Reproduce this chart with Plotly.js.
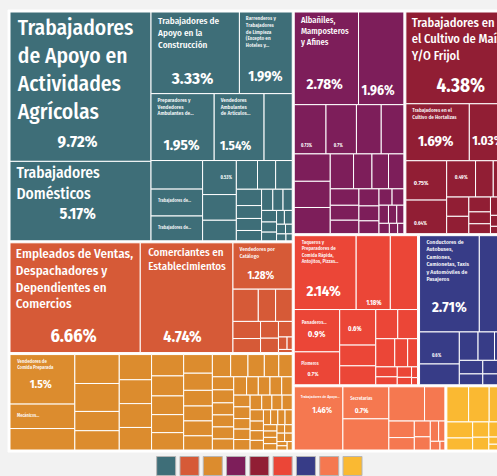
<!DOCTYPE html>
<html>
<head>
<meta charset="utf-8">
<script src="https://cdn.plot.ly/plotly-3.0.1.min.js"></script>
<style>
html,body{margin:0;padding:0;overflow:hidden;background:#f2f2f2;}
#chart{width:510px;height:476px;}
</style>
</head>
<body>
<div id="chart"></div>
<script>
// ---------------- DATA ----------------
const groups = [
  "Trabajadores en Actividades Elementales y de Apoyo",
  "Comerciantes, Empleados en Ventas y Agentes de Ventas",
  "Trabajadores Artesanales",
  "Trabajadores en la Construcción",
  "Trabajadores en Actividades Agrícolas, Ganaderas, Forestales, Caza y Pesca",
  "Trabajadores en Servicios Personales y Vigilancia",
  "Operadores de Maquinaria, Choferes y Conductores de Transporte",
  "Trabajadores Auxiliares en Actividades Administrativas",
  "Profesionistas y Técnicos"
];

// occupation names per group (unnamed small cells are "Otras ocupaciones")
const g0Names = [
  "Trabajadores de Apoyo en Actividades Agrícolas",
  "Trabajadores Domésticos",
  "Trabajadores de Apoyo en la Construcción",
  "Barrenderos y Trabajadores de Limpieza (Excepto en Hoteles y Restaurantes)",
  "Preparadores y Vendedores Ambulantes de Alimentos",
  "Vendedores Ambulantes de Artículos Diversos",
  null, null,
  "Trabajadores de Apoyo en la Industria",
  "Trabajadores de Apoyo en Actividades Pecuarias"
];
const g0Values = [9.72, 5.17, 3.33, 1.99, 1.95, 1.54, 0.87, 0.68, 0.64, 0.59, 0.53,
  0.4, 0.32, 0.28, 0.24, 0.22, 0.19, 0.15, 0.14, 0.12, 0.11, 0.1, 0.09, 0.08, 0.07, 0.06, 0.05, 0.05, 0.04, 0.03, 0.03, 0.02];

const g1Names = [
  "Empleados de Ventas, Despachadores y Dependientes en Comercios",
  "Comerciantes en Establecimientos",
  "Vendedores por Catálogo"
];
const g1Values = [6.66, 4.74, 1.28, 0.38, 0.26, 0.25, 0.22, 0.18, 0.14, 0.12, 0.1, 0.05, 0.03, 0.02];

const g2Names = [
  "Vendedores de Comida Preparada",
  "Mecánicos en Mantenimiento y Reparación de Vehículos"
];
const g2Values = [1.5, 0.74, 0.65, 0.6, 0.58, 0.4, 0.4, 0.38, 0.36, 0.36, 0.34, 0.32, 0.3, 0.28, 0.27, 0.26, 0.25, 0.23, 0.21, 0.2, 0.2, 0.19, 0.19, 0.18, 0.17, 0.15, 0.14, 0.13, 0.13, 0.12, 0.12, 0.12, 0.11, 0.11, 0.1, 0.1, 0.1, 0.09, 0.09, 0.09, 0.08, 0.08, 0.08, 0.08, 0.07, 0.07, 0.07, 0.07, 0.06, 0.06, 0.06, 0.05, 0.05, 0.05, 0.05, 0.04, 0.04, 0.04, 0.04, 0.03, 0.03, 0.03, 0.03, 0.02, 0.02, 0.02];

const g3Names = ["Albañiles, Mamposteros y Afines"];
const g3Values = [2.78, 1.96, 0.73, 0.7, 0.57, 0.52, 0.46, 0.44, 0.44, 0.38, 0.3, 0.27, 0.25, 0.22, 0.2, 0.18, 0.16, 0.14, 0.12, 0.1, 0.09, 0.08, 0.07, 0.06, 0.05, 0.04, 0.03];

const g4Names = [
  "Trabajadores en el Cultivo de Maíz Y/O Frijol",
  "Trabajadores en el Cultivo de Hortalizas"
];
const g4Values = [4.38, 1.69, 1.03, 0.75, 0.64, 0.49, 0.3, 0.25, 0.2, 0.18, 0.15, 0.12, 0.1, 0.08, 0.07, 0.05, 0.04, 0.03, 0.03];

const g5Names = [
  "Taqueros y Preparadores de Comida Rápida, Antojitos, Pizzas, Hot Dogs y Hamburguesas",
  null, null,
  "Panaderos, Pasteleros y Elaboradores de Pan",
  "Plomeros"
];
const g5Values = [2.14, 1.18, 0.94, 0.9, 0.7, 0.6, 0.35, 0.32, 0.3, 0.27, 0.25, 0.17, 0.13, 0.1, 0.08, 0.07, 0.05, 0.03, 0.02];

const g6Names = ["Conductores de Autobuses, Camiones, Camionetas, Taxis y Automóviles de Pasajeros"];
const g6Values = [2.71, 1.3, 0.6, 0.39, 0.25, 0.22, 0.18, 0.15, 0.12, 0.1, 0.08, 0.06, 0.05];

const g7Names = [
  "Trabajadores de Apoyo en Actividades Administrativas",
  "Secretarias"
];
const g7Values = [1.46, 0.7, 0.68, 0.58, 0.33, 0.2, 0.15, 0.12, 0.1, 0.08, 0.06, 0.04, 0.02];

const g8Names = [];
const g8Values = [0.37, 0.35, 0.32, 0.2, 0.15, 0.12, 0.1, 0.08, 0.06, 0.05, 0.04, 0.03];

// ---------------- STYLE ----------------
const groupColors = ["#3e6e78", "#d65a37", "#dc8c2e", "#7d1e5a", "#911e34", "#eb4637", "#373c87", "#f57850", "#fab932"];
const FONT = "'Fira Sans Condensed', 'Roboto Condensed', 'Liberation Sans Narrow', 'DejaVu Sans Condensed', Roboto, sans-serif";
const NAME_PAD = 4;     // extra left padding of names, px
const NB_EM = 0.22;     // width of a no-break space, em

// text shown in cells, keyed by "group-index":
// lines = wrapped name, n = name size, p = percent size, gap = lines from name to percent,
// pre = blank lines above, ind = percent indent (px)
const display = {
  "0-0": {lines: ["Trabajadores", "de Apoyo en", "Actividades", "Agrícolas"], n: 21.5, p: 16.5, gap: 1, ind: 48},
  "0-1": {lines: ["Trabajadores", "Domésticos"], n: 15.5, p: 16, gap: 1, ind: 48},
  "0-2": {lines: ["Trabajadores de", "Apoyo en la", "Construcción"], n: 9.2, p: 17, gap: 3, ind: 20},
  "0-3": {lines: ["Barrenderos y", "Trabajadores", "de Limpieza", "(Excepto en", "Hoteles y..."], n: 5.2, p: 14, gap: 5, ind: 6},
  "0-4": {lines: ["Preparadores y", "Vendedores", "Ambulantes de..."], n: 5.3, p: 15, gap: 5, ind: 9},
  "0-5": {lines: ["Vendedores", "Ambulantes", "de Artículos..."], n: 5.3, p: 13, gap: 5, ind: 4},
  "0-8": {lines: ["Trabajadores de..."], n: 4.5, pre: 1},
  "0-9": {lines: ["Trabajadores de..."], n: 4.5, pre: 1},
  "0-10": {n: 4.5, p: 4.5, gap: 2, ind: 16},
  "1-0": {lines: ["Empleados de Ventas,", "Despachadores y", "Dependientes en", "Comercios"], n: 13, p: 18, gap: 2, ind: 40},
  "1-1": {lines: ["Comerciantes en", "Establecimientos"], n: 11, p: 16, gap: 5, ind: 22},
  "1-2": {lines: ["Vendedores por", "Catálogo"], n: 5.4, p: 11, gap: 3, ind: 12},
  "2-0": {lines: ["Vendedores de", "Comida Preparada"], n: 4.8, p: 11.5, gap: 3, ind: 17},
  "2-1": {lines: ["Mecánicos..."], n: 4.5, pre: 1},
  "3-0": {lines: ["Albañiles,", "Mamposteros", "y Afines"], n: 8.5, p: 15, gap: 4, ind: 9},
  "3-1": {n: 8, p: 13.5, gap: 7, ind: 0},
  "3-2": {n: 4.5, p: 4.5, gap: 6, ind: 4},
  "3-3": {n: 4.5, p: 4.5, gap: 6, ind: 5},
  "4-0": {lines: ["Trabajadores en", "el Cultivo de Maíz", "Y/O Frijol"], n: 12.5, p: 19, gap: 2, ind: 29},
  "4-1": {lines: ["Trabajadores en el", "Cultivo de Hortalizas"], n: 5.2, p: 14.5, gap: 4, ind: 10},
  "4-2": {n: 8, p: 13, gap: 3, ind: 0},
  "4-3": {n: 4.5, p: 6, gap: 3, ind: 5},
  "4-4": {n: 4.5, p: 5, gap: 3, ind: 5},
  "4-5": {n: 4.5, p: 5, gap: 2, ind: 6},
  "5-0": {lines: ["Taqueros y", "Preparadores de", "Comida Rápida,", "Antojitos, Pizzas..."], n: 5, p: 15, gap: 5, ind: 9},
  "5-1": {n: 6, p: 7, gap: 8, ind: 7},
  "5-3": {lines: ["Panaderos..."], n: 5, p: 8.5, gap: 2, pre: 1, ind: 11},
  "5-4": {lines: ["Plomeros"], n: 4.5, p: 5.5, gap: 2, pre: 1, ind: 11},
  "5-5": {n: 5, p: 6.5, gap: 2, ind: 6},
  "6-0": {lines: ["Conductores de", "Autobuses,", "Camiones,", "Camionetas, Taxis", "y Automóviles de", "Pasajeros"], n: 5.8, p: 15, gap: 4, ind: 9},
  "6-2": {n: 4.5, p: 4.5, gap: 3, ind: 10},
  "7-0": {lines: ["Trabajadores de Apoyo..."], n: 4.8, p: 10, gap: 3, pre: 1, ind: 19},
  "7-1": {lines: ["Secretarias"], n: 4.8, p: 7, gap: 2, pre: 1, ind: 10}
};

// ---------------- BUILD ----------------
const allNames = [g0Names, g1Names, g2Names, g3Names, g4Names, g5Names, g6Names, g7Names, g8Names];
const allValues = [g0Values, g1Values, g2Values, g3Values, g4Values, g5Values, g6Values, g7Values, g8Values];

const NB = "\u00a0";
function spaces(px, size) {
  return NB.repeat(Math.max(0, Math.round(px / (NB_EM * size))));
}
function cellText(d, v) {
  if (!d) return "";
  const out = [];
  for (let k = 0; k < (d.pre || 0); k++) out.push(NB);
  if (d.lines) d.lines.forEach(l => out.push(spaces(NAME_PAD, d.n) + l));
  if (d.p) {
    const blanks = d.lines ? d.gap - 1 : d.gap;
    for (let k = 0; k < blanks; k++) out.push(NB);
    out.push('<span style="font-size:' + d.p + 'px"><b>' + spaces(d.ind || 0, d.p) + v + '%</b></span>');
  }
  return out.join("<br>");
}

const ids = ["root"], labels = ["Ocupaciones"], parents = [""], values = [0];
const colors = ["#ffffff"], texts = [""], sizes = [10];
groups.forEach((g, gi) => {
  ids.push("g" + gi); labels.push(g); parents.push("root"); values.push(0);
  colors.push("#ffffff"); texts.push(""); sizes.push(10);
});
allValues.forEach((vals, gi) => {
  vals.forEach((v, i) => {
    const id = gi + "-" + i;
    const d = display[id];
    ids.push(id);
    labels.push(allNames[gi][i] || "Otras ocupaciones");
    parents.push("g" + gi);
    values.push(v);
    colors.push(groupColors[gi]);
    texts.push(cellText(d, v));
    sizes.push(d ? d.n : 10);
  });
});

const treemap = {
  type: "treemap",
  ids: ids, labels: labels, parents: parents, values: values,
  branchvalues: "remainder",
  sort: true,
  text: texts,
  textinfo: "text",
  textposition: "top left",
  textfont: {family: FONT, color: "#ffffff", size: sizes, weight: 500},
  hoverinfo: "label+value",
  marker: {
    colors: colors,
    line: {color: "#ffffff", width: 1},
    pad: {t: 1, l: 1, r: 1, b: 1}
  },
  tiling: {packing: "squarify", squarifyratio: 1.618, pad: 0},
  pathbar: {visible: false},
  domain: {x: [0, 1], y: [0.0515, 1]}
};

const legendTrace = {
  type: "scatter", mode: "markers",
  x: groups, y: groups.map(() => "leyenda"),
  marker: {symbol: "square", size: 19, color: groupColors, line: {color: "#b5b5b5", width: 1}},
  hoverinfo: "x", showlegend: false
};

const layout = {
  width: 510, height: 476,
  margin: {l: 8, r: 0, t: 10, b: 0},
  paper_bgcolor: "#f2f2f2",
  plot_bgcolor: "rgba(0,0,0,0)",
  showlegend: false,
  xaxis: {type: "category", categoryarray: groups, range: [-6.79, 14.76], domain: [0, 1], visible: false, fixedrange: true},
  yaxis: {type: "category", range: [-0.5, 0.5], domain: [0, 0.043], visible: false, fixedrange: true},
  font: {family: FONT}
};

Plotly.newPlot("chart", [treemap, legendTrace], layout, {displayModeBar: false, staticPlot: true});
</script>
</body>
</html>
